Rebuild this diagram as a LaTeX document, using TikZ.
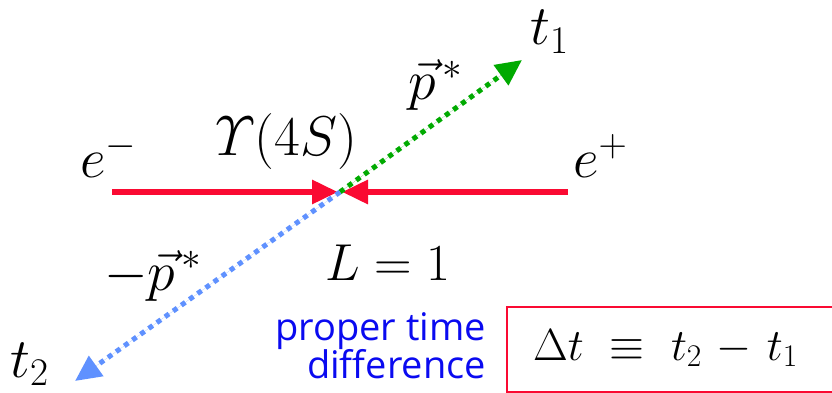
\RequirePackage{fix-cm}
\documentclass[tikz,border=0pt]{standalone}
\usepackage{fontspec}
\newfontfamily\handfont{Open Sans}
\usetikzlibrary{arrows.meta}
\definecolor{beamred}{RGB}{250,10,50}
\definecolor{dotgreen}{RGB}{0,170,0}
\definecolor{dotblue}{RGB}{95,145,255}
\definecolor{textblue}{RGB}{10,10,240}
\begin{document}
\begin{tikzpicture}[x=1pt,y=-1pt,
  lbl/.style={inner sep=0pt,anchor=base west,font=\fontsize{56}{60}\selectfont},
  beam/.style={draw=beamred,line width=6pt,-{Triangle[length=26pt,width=23pt]}},
  prod/.style={line width=5pt,dash pattern=on 5pt off 5pt,-{Triangle[length=26pt,width=24pt]}},
  note/.style={inner sep=0pt,text=textblue,font=\handfont\fontsize{38}{42}\selectfont}]
\useasboundingbox (0,0) rectangle (832,393);
\coordinate (c) at (340,192);
\coordinate (eL) at (112,192);
\coordinate (eR) at (568,192);
\coordinate (tipA) at (522,60);
\coordinate (tipB) at (75,381);
\draw[beam] (eL) -- ([xshift=-2pt]c);
\draw[beam] (eR) -- ([xshift=2pt]c);
\draw[prod,draw=dotgreen,fill=dotgreen] (c) -- (tipA);
\draw[prod,draw=dotblue,fill=dotblue] (c) -- (tipB);
\node[lbl] (em) at (80,177) {$e^-$};
\node[lbl] (ep) at (573,177) {$e^+$};
\node[lbl] (ups) at (215,155) {$\mathnormal{\Upsilon}(4S)$};
\node[lbl] (p1) at (408,100) {$\vec{p}^{\,*}$};
\node[lbl] (t1) at (530,45) {$t_1$};
\node[lbl] (p2) at (104,290) {$-\vec{p}^{\,*}$};
\node[lbl] (t2) at (10,377) {$t_2$};
\node[lbl,font=\fontsize{52}{56}\selectfont] (L) at (325,280) {$L=1$};
\node[note,anchor=base east] (n1) at (486,340) {proper time};
\node[note,anchor=base east] (n2) at (486,378) {difference};
\draw[draw=beamred,line width=2pt] (507,307) rectangle (845,392);
\node[lbl,font=\fontsize{45}{50}\selectfont] (dt) at (533,360) {$\Delta t\ \equiv\ t_2\mskip2mu-\mskip2mu t_1$};
\end{tikzpicture}
\end{document}
